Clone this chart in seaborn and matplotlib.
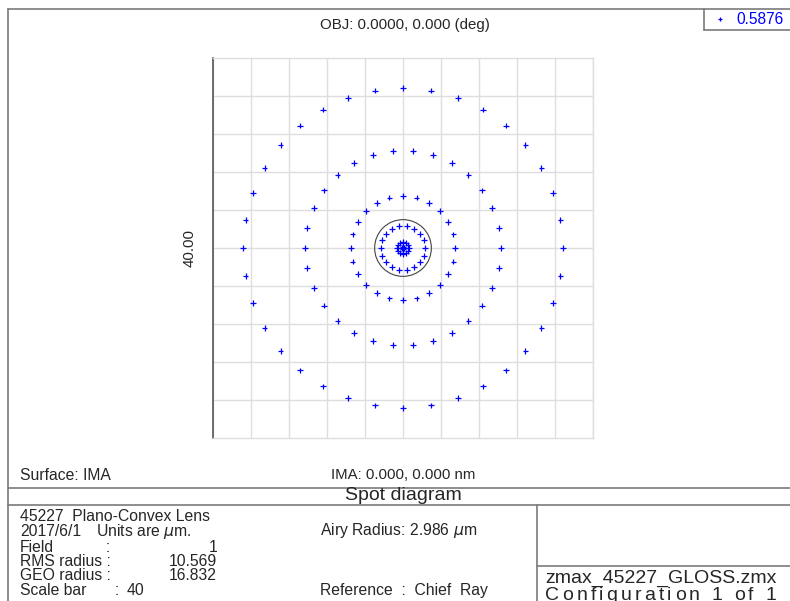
import numpy as np
import pandas as pd
import matplotlib
matplotlib.use("Agg")
import matplotlib.pyplot as plt
from matplotlib.lines import Line2D
from matplotlib.patches import Circle
from matplotlib.font_manager import FontProperties
import seaborn as sns

# ---- data ----
ring_counts = [1, 6, 12, 18, 24, 30, 36]            # hexapolar rays per ring
ring_radii_um = [0.0, 0.1, 0.65, 2.35, 5.5, 10.3, 16.83]  # image-plane radius of each ring
wavelength_label = "0.5876"
airy_radius_um = 2.986
half_width_um = 20.0       # scale bar 40 um
grid_step_um = 4.0

xs, ys = [], []
for n, r in zip(ring_counts, ring_radii_um):
    ang = np.deg2rad(np.arange(n) * 360.0 / n)
    xs.extend(r * np.cos(ang))
    ys.extend(r * np.sin(ang))
df = pd.DataFrame({"x": xs, "y": ys, "wavelength": wavelength_label})

# ---- style ----
sns.set_style("white")
plt.rcParams["font.family"] = ["Liberation Sans", "DejaVu Sans"]
plt.rcParams["font.size"] = 10.8

W, H = 790, 601
fig = plt.figure(figsize=(W / 100, H / 100), dpi=100)

def fx(px):
    return px / W

def fy(py):
    return 1 - py / H

ax = fig.add_axes([fx(213), fy(438), 380 / W, 380 / H])
sns.scatterplot(data=df, x="x", y="y", hue="wavelength", palette={wavelength_label: "#0000ff"},
                marker="+", s=18, linewidth=0.9, ax=ax, zorder=3)
ax.add_patch(Circle((0, 0), airy_radius_um, fill=False, edgecolor="#444444", lw=0.8, zorder=2))

ax.set_xlim(-half_width_um, half_width_um)
ax.set_ylim(-half_width_um, half_width_um)
ax.set_aspect("auto")
grid_pos = np.arange(-half_width_um, half_width_um + 0.1, grid_step_um)
ax.set_xticks([])
ax.set_xticks(grid_pos, minor=True)
ax.set_yticks([-half_width_um, half_width_um])
ax.set_yticklabels(["", ""])
ax.set_yticks(grid_pos, minor=True)
ax.tick_params(axis="both", which="minor", length=0)
ax.tick_params(axis="y", which="major", length=5, width=1.2, color="#555555", direction="out")
ax.grid(which="minor", color="#dedede", lw=1.0)
ax.grid(which="major", visible=False)
ax.set_xlabel("")
ax.set_ylabel("")
for side in ["top", "right", "bottom"]:
    ax.spines[side].set_color("#dedede")
    ax.spines[side].set_linewidth(1.0)
ax.spines["left"].set_color("#555555")
ax.spines["left"].set_linewidth(1.2)

# legend (wavelength)
sns.move_legend(ax, "center left", bbox_to_anchor=(fx(705), fy(20)), bbox_transform=fig.transFigure,
                frameon=False, title=None, handletextpad=0.6, handlelength=1.0, borderpad=0, markerscale=0.8)
for t in ax.get_legend().get_texts():
    t.set_color("#0000ff")
    t.set_fontsize(11.2)

# ---- frame lines ----
lc = "#7a7a7a"
def hline(y, x0, x1):
    fig.add_artist(Line2D([fx(x0), fx(x1)], [fy(y), fy(y)], color=lc, lw=1.2))
def vline(x, y0, y1):
    fig.add_artist(Line2D([fx(x), fx(x)], [fy(y0), fy(y1)], color=lc, lw=1.2))

hline(9, 8, 792)
vline(8, 9, 603)
vline(704, 9, 30)
hline(30, 704, 792)
hline(487.5, 8, 792)
hline(505, 8, 792)
vline(537, 505, 603)
hline(566, 537, 792)

# ---- texts ----
def txt(x, y, s, **kw):
    kw.setdefault("va", "center")
    kw.setdefault("ha", "left")
    return fig.text(fx(x), fy(y), s, **kw)

fs = 11.3
txt(405, 25, "OBJ: 0.0000, 0.000 (deg)", ha="center")
txt(190, 248, "40.00", ha="center", rotation=90)
txt(20, 475, "Surface: IMA", fontsize=fs)
txt(331, 475, "IMA: 0.000, 0.000 nm")
txt(403, 496, "Spot diagram", ha="center", fontsize=14)
txt(20, 516.5, "45227  Plano-Convex Lens", fontsize=fs)
txt(20, 531.5, "2017/6/1", fontsize=fs)
txt(96.5, 531.5, r"Units are $\mu$m.", fontsize=fs)
txt(20, 547, "Field", fontsize=fs)
txt(106, 547, ":", fontsize=fs)
txt(217, 547, "1", ha="right", fontsize=fs)
txt(20, 561.5, "RMS radius :", fontsize=fs)
txt(217, 561.5, "10.569", ha="right", fontsize=fs)
txt(20, 576, "GEO radius :", fontsize=fs)
txt(217, 576, "16.832", ha="right", fontsize=fs)
txt(20, 590.5, "Scale bar", fontsize=fs)
txt(115, 590.5, ":", fontsize=fs)
txt(127, 590.5, "40", fontsize=fs)
txt(320, 530, r"Airy Radius: 2.986 $\mu$m", fontsize=fs)
txt(320, 591, "Reference  :  Chief  Ray", fontsize=fs)
txt(545, 578, "zmax_45227_GLOSS.zmx", fontsize=14)

# letter-spaced configuration line
conf = "Configuration 1 of 1"
fp = FontProperties(family=["Liberation Sans", "DejaVu Sans"], size=14)
fig.canvas.draw()
rend = fig.canvas.get_renderer()
widths = [rend.get_text_width_height_descent(c, fp, ismath=False)[0] for c in conf]
target = 776 - 545
extra = (target - sum(widths)) / (len(conf) - 1)
xc = 545.0
for c, w in zip(conf, widths):
    if c != " ":
        fig.text(fx(xc), fy(596), c, fontproperties=fp, va="center", ha="left")
    xc += w + extra

fig.savefig("out.png", dpi=100)
